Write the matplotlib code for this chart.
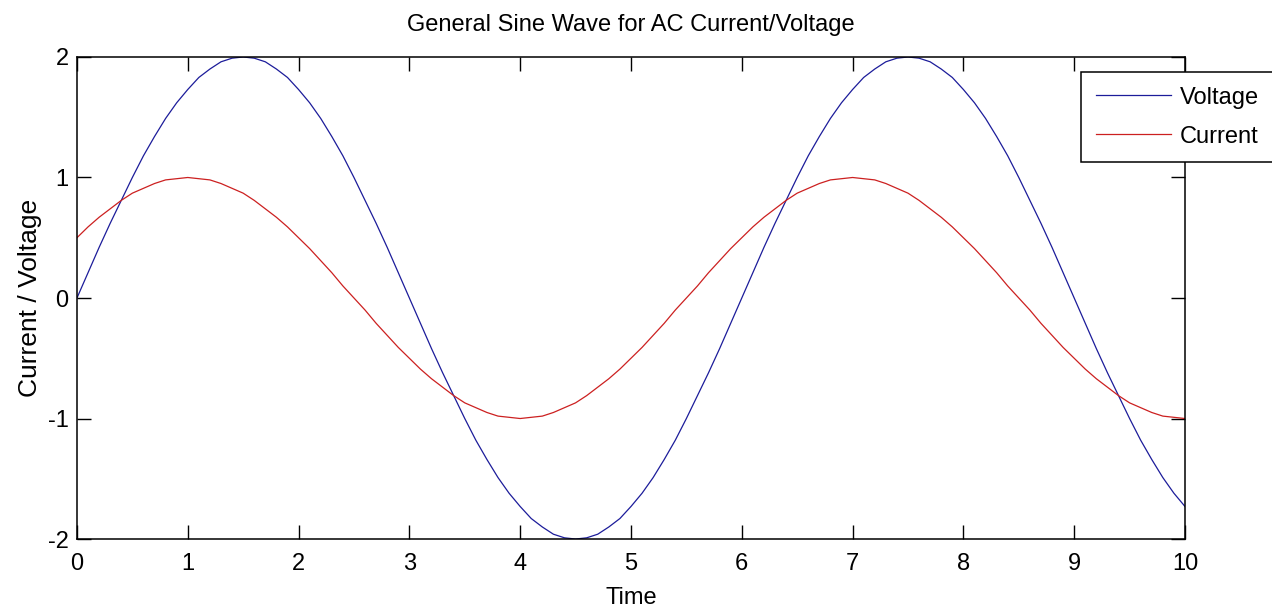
import numpy as np
import matplotlib
matplotlib.use("Agg")
import matplotlib.pyplot as plt

voltage = [0, 0.21, 0.42, 0.62, 0.81, 1.0, 1.18, 1.34, 1.49, 1.62,
           1.73, 1.83, 1.90, 1.96, 1.99, 2.0, 1.99, 1.96, 1.90, 1.83,
           1.73, 1.62, 1.49, 1.34, 1.18, 1.0, 0.81, 0.62, 0.42, 0.21,
           0, -0.21, -0.42, -0.62, -0.81, -1.0, -1.18, -1.34, -1.49, -1.62,
           -1.73, -1.83, -1.90, -1.96, -1.99, -2.0, -1.99, -1.96, -1.90, -1.83,
           -1.73, -1.62, -1.49, -1.34, -1.18, -1.0, -0.81, -0.62, -0.42, -0.21,
           0, 0.21, 0.42, 0.62, 0.81, 1.0, 1.18, 1.34, 1.49, 1.62,
           1.73, 1.83, 1.90, 1.96, 1.99, 2.0, 1.99, 1.96, 1.90, 1.83,
           1.73, 1.62, 1.49, 1.34, 1.18, 1.0, 0.81, 0.62, 0.42, 0.21,
           0, -0.21, -0.42, -0.62, -0.81, -1.0, -1.18, -1.34, -1.49, -1.62,
           -1.73]
current = [0.5, 0.59, 0.67, 0.74, 0.81, 0.87, 0.91, 0.95, 0.98, 0.99,
           1.0, 0.99, 0.98, 0.95, 0.91, 0.87, 0.81, 0.74, 0.67, 0.59,
           0.5, 0.41, 0.31, 0.21, 0.10, 0, -0.10, -0.21, -0.31, -0.41,
           -0.5, -0.59, -0.67, -0.74, -0.81, -0.87, -0.91, -0.95, -0.98, -0.99,
           -1.0, -0.99, -0.98, -0.95, -0.91, -0.87, -0.81, -0.74, -0.67, -0.59,
           -0.5, -0.41, -0.31, -0.21, -0.10, 0, 0.10, 0.21, 0.31, 0.41,
           0.5, 0.59, 0.67, 0.74, 0.81, 0.87, 0.91, 0.95, 0.98, 0.99,
           1.0, 0.99, 0.98, 0.95, 0.91, 0.87, 0.81, 0.74, 0.67, 0.59,
           0.5, 0.41, 0.31, 0.21, 0.10, 0, -0.10, -0.21, -0.31, -0.41,
           -0.5, -0.59, -0.67, -0.74, -0.81, -0.87, -0.91, -0.95, -0.98, -0.99,
           -1.0]
time = np.linspace(0, 10, len(voltage))

x_ticks = [0, 1, 2, 3, 4, 5, 6, 7, 8, 9, 10]
y_ticks = [-2, -1, 0, 1, 2]

plt.rcParams['font.family'] = ['Liberation Sans', 'DejaVu Sans']
plt.rcParams['axes.unicode_minus'] = False

fig = plt.figure(figsize=(12.72, 6.14), dpi=100)
ax = fig.add_axes([0.0605, 0.1221, 0.8711, 0.7851])

ax.plot(time, voltage, color='#1c1c9a', lw=0.9, label='Voltage')
ax.plot(time, current, color='#cc2020', lw=0.9, label='Current')

ax.set_xlim(0, 10)
ax.set_ylim(-2, 2)
ax.set_xticks(x_ticks)
ax.set_yticks(y_ticks)
ax.tick_params(direction='in', length=10, width=1, top=True, right=True,
               labelsize=17, color='black')
ax.tick_params(axis='x', pad=10)
ax.tick_params(axis='y', pad=6)
for s in ax.spines.values():
    s.set_linewidth(1.1)

ax.set_title('General Sine Wave for AC Current/Voltage', fontsize=17, pad=19)
ax.set_xlabel('Time', fontsize=17, labelpad=9)
ax.set_ylabel('Current / Voltage', fontsize=19, labelpad=4)

leg = fig.legend(loc='upper left', bbox_to_anchor=(1081 / 1272, 1 - 72 / 614),
                 bbox_transform=fig.transFigure, fontsize=17, frameon=True,
                 fancybox=False, framealpha=1, edgecolor='black',
                 borderaxespad=0, handlelength=3.2, handletextpad=0.35,
                 labelspacing=0.72, borderpad=0.62)
leg.get_frame().set_linewidth(1.1)

fig.savefig('out.png', dpi=100)
